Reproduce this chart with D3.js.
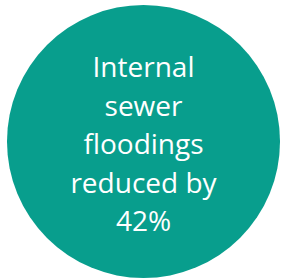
<!DOCTYPE html>
<html>
<head>
<meta charset="utf-8">
<script src="https://cdn.jsdelivr.net/npm/d3@7"></script>
<style>
  html, body { margin: 0; padding: 0; background: #ffffff; }
  svg { display: block; }
</style>
</head>
<body>
<svg id="chart" width="281" height="280"></svg>
<script>
const categories = ["Internal sewer floodings"];
const values = [42];
const labelLines = ["Internal", "sewer", "floodings", "reduced by", "42%"];

const W = 281, H = 280;
const svg = d3.select("#chart");

const cx = 143.5, cy = 141.5, r = 136.5;

const pie = d3.pie().value(() => 1).sort(null);
const arc = d3.arc().innerRadius(0).outerRadius(r);

const g = svg.append("g").attr("transform", `translate(${cx},${cy})`);
g.selectAll("path.slice")
  .data(pie(categories))
  .join("path")
  .attr("class", "slice")
  .attr("d", arc)
  .attr("fill", "#089e8d");

const y = d3.scalePoint().domain(d3.range(labelLines.length)).range([77 - cy, 231 - cy]);

g.selectAll("text.lbl")
  .data(labelLines)
  .join("text")
  .attr("class", "lbl")
  .attr("x", 0)
  .attr("y", (d, i) => y(i))
  .attr("text-anchor", "middle")
  .attr("fill", "#ffffff")
  .attr("font-family", "'Open Sans', sans-serif")
  .attr("font-size", 28)
  .text(d => d);
</script>
</body>
</html>
